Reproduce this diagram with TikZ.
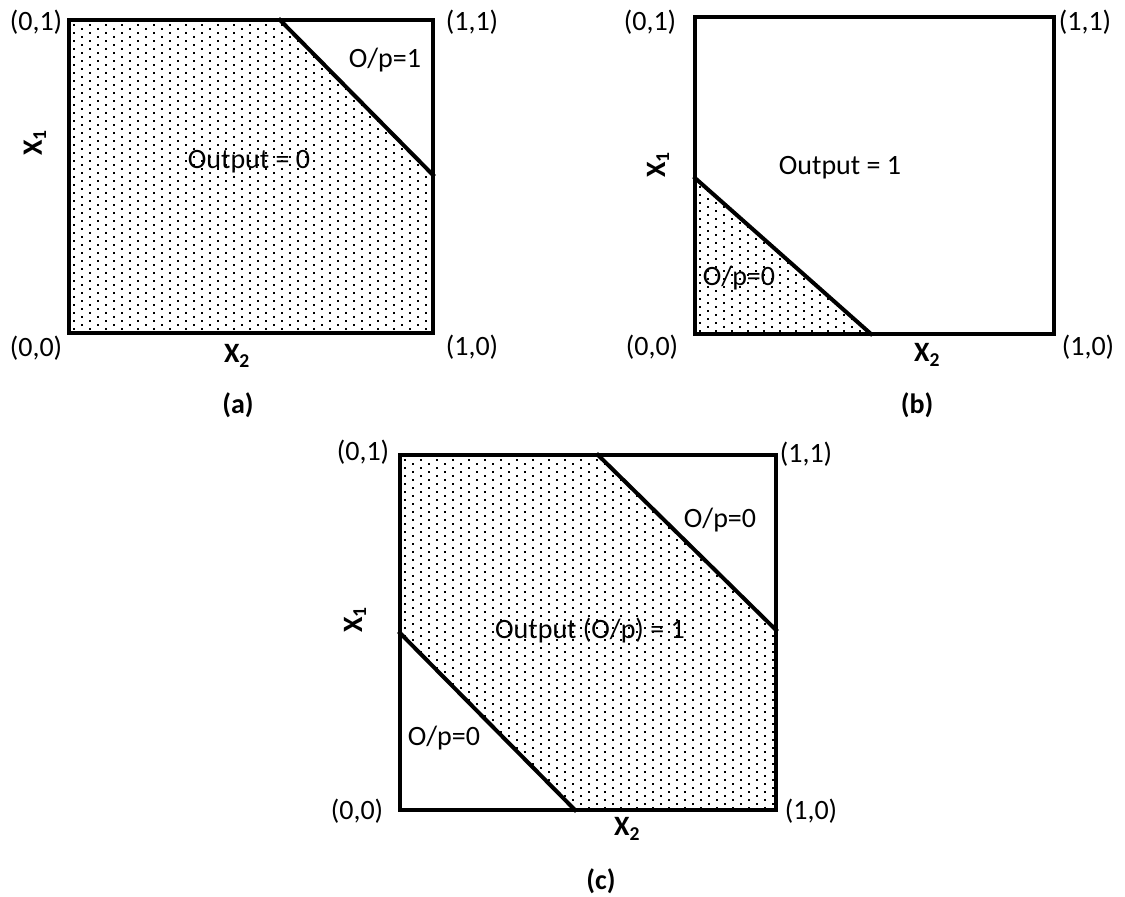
\documentclass[tikz,border=0pt]{standalone}
\usepackage{fontspec}
\setmainfont{Carlito}
\begin{document}
\begin{tikzpicture}[x=1pt,y=-1pt,
  frame/.style={line width=4pt, line join=miter, line cap=rect},
  lbl/.style={inner sep=0pt, font=\fontsize{28}{34}\selectfont},
  axis/.style={inner sep=0pt, font=\bfseries\fontsize{28}{34}\selectfont},
  dotstyle/.style={fill=black}]
\useasboundingbox (0,0) rectangle (1125,897);

% staggered dot texture over a box x0..x1, y0..y1 (call inside a clipped scope)
\newcommand\dottexture[4]{%
  \pgfmathtruncatemacro\ncols{(#3-#1)/16}%
  \pgfmathtruncatemacro\nrows{(#4-#2)/8}%
  \foreach \jj in {0,...,\nrows}{%
    \foreach \ii in {0,...,\ncols}{%
      \fill[dotstyle] (#1+16*\ii,#2+8*\jj) rectangle ++(2,2);
      \fill[dotstyle] (#1+8+16*\ii,#2+4+8*\jj) rectangle ++(2,2);
    }%
  }%
}

% ---------------- panel (a) ----------------
\coordinate (aTL) at (69,20);
\coordinate (aTR) at (433,20);
\coordinate (aBL) at (69,333);
\coordinate (aBR) at (433,333);
\coordinate (aD1) at (280,20);
\coordinate (aD2) at (433,175);
\begin{scope}
  \clip (aTL) -- (aD1) -- (aD2) -- (aBR) -- (aBL) -- cycle;
  \dottexture{73}{24}{433}{333}
\end{scope}
\draw[frame] (aTL) -- (aTR) -- (aBR) -- (aBL) -- cycle;
\draw[frame] (aD1) -- (aD2);
\node[lbl] (a01) at (36,22) {(0,1)};
\node[lbl] (a11) at (472,22) {(1,1)};
\node[lbl] (a00) at (36,348) {(0,0)};
\node[lbl] (a10) at (472,347) {(1,0)};
\node[axis,rotate=90] (ax1) at (35,143) {X\textsubscript{1}};
\node[axis] (ax2) at (237,356) {X\textsubscript{2}};
\node[axis] (acap) at (238,405) {(a)};
\node[lbl] (aout) at (249,162) {Output = 0};
\node[lbl] (aop) at (385,60) {O/p=1};

% ---------------- panel (b) ----------------
\coordinate (bTL) at (695,17);
\coordinate (bTR) at (1054,17);
\coordinate (bBL) at (695,334);
\coordinate (bBR) at (1054,334);
\coordinate (bD1) at (695,178);
\coordinate (bD2) at (871,334);
\begin{scope}
  \clip (bD1) -- (bD2) -- (bBL) -- cycle;
  \dottexture{699}{178}{871}{334}
\end{scope}
\draw[frame] (bTL) -- (bTR) -- (bBR) -- (bBL) -- cycle;
\draw[frame] (bD1) -- (bD2);
\node[lbl] (b01) at (650,22) {(0,1)};
\node[lbl] (b11) at (1085,22) {(1,1)};
\node[lbl] (b00) at (652,347) {(0,0)};
\node[lbl] (b10) at (1088,347) {(1,0)};
\node[axis,rotate=90] (bx1) at (658,165) {X\textsubscript{1}};
\node[axis] (bx2) at (927,355) {X\textsubscript{2}};
\node[axis] (bcap) at (917,405) {(b)};
\node[lbl] (bout) at (840,168) {Output = 1};
\node[lbl] (bop) at (739,278) {O/p=0};

% ---------------- panel (c) ----------------
\coordinate (cTL) at (400,455);
\coordinate (cTR) at (776,455);
\coordinate (cBL) at (400,810);
\coordinate (cBR) at (776,810);
\coordinate (cU1) at (598,455);
\coordinate (cU2) at (776,630);
\coordinate (cL1) at (400,633);
\coordinate (cL2) at (575,810);
\begin{scope}
  \clip (cTL) -- (cU1) -- (cU2) -- (cBR) -- (cL2) -- (cL1) -- cycle;
  \dottexture{404}{459}{776}{810}
\end{scope}
\draw[frame] (cTL) -- (cTR) -- (cBR) -- (cBL) -- cycle;
\draw[frame] (cU1) -- (cU2);
\draw[frame] (cL1) -- (cL2);
\node[lbl] (c01) at (363,452) {(0,1)};
\node[lbl] (c11) at (806,454) {(1,1)};
\node[lbl] (c00) at (357,811) {(0,0)};
\node[lbl] (c10) at (811,811) {(1,0)};
\node[axis,rotate=90] (cx1) at (355,620) {X\textsubscript{1}};
\node[axis] (cx2) at (627,829) {X\textsubscript{2}};
\node[axis] (ccap) at (601,881) {(c)};
\node[lbl] (cout) at (590,631) {Output (O/p) = 1};
\node[lbl] (copu) at (720,520) {O/p=0};
\node[lbl] (copl) at (444,738) {O/p=0};
\end{tikzpicture}
\end{document}
